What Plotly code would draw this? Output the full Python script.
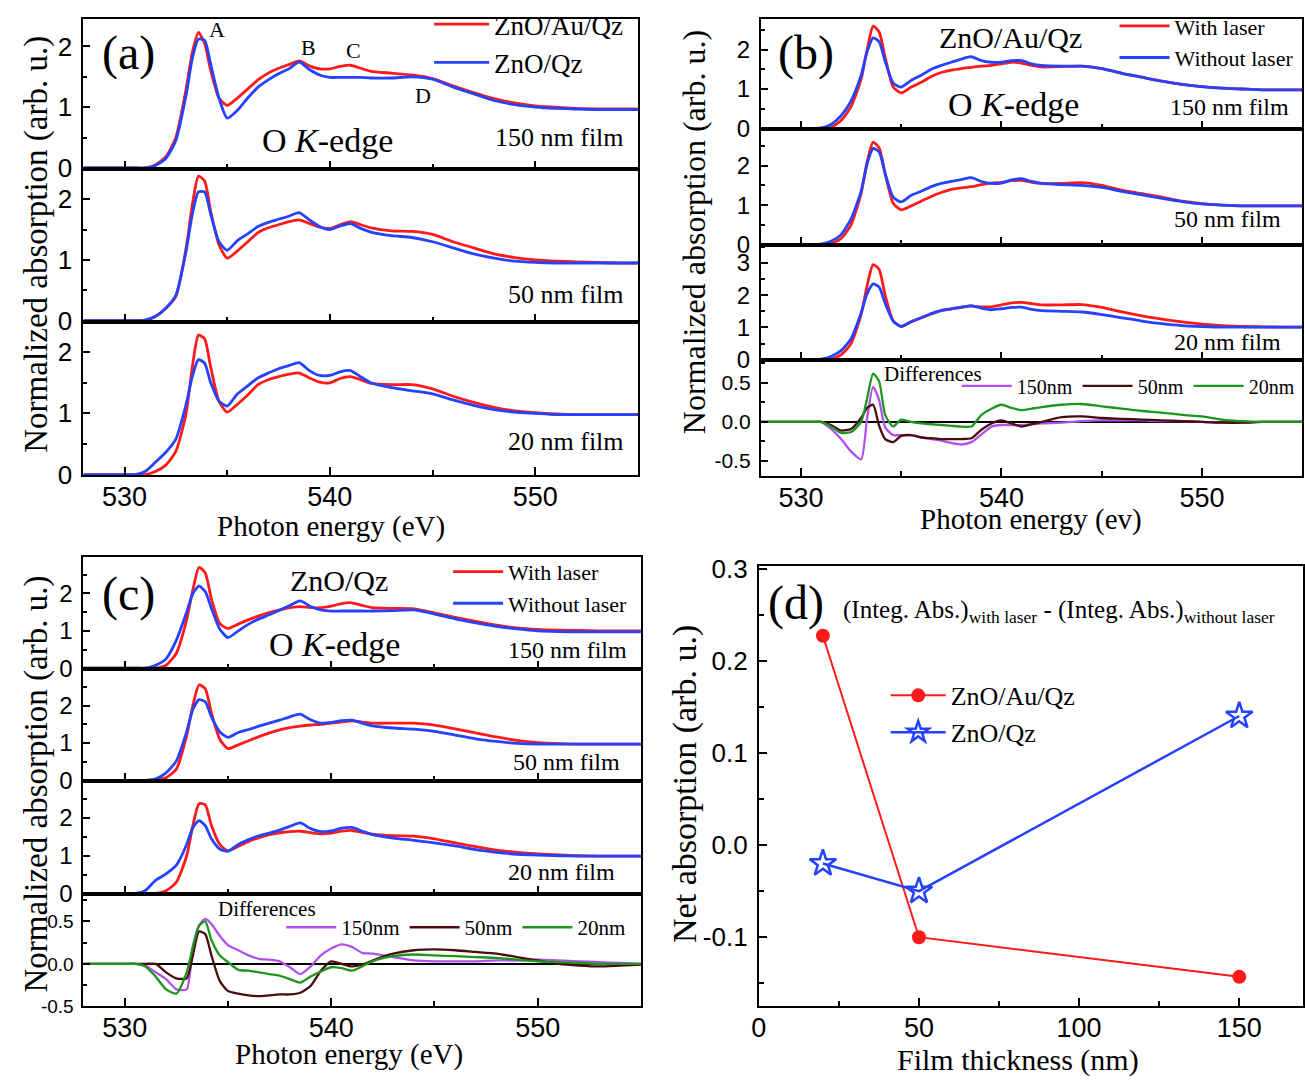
import plotly.graph_objects as go

W, H = 1305, 1081
SERIF = "Liberation Serif, Times New Roman, serif"
SANS = "Liberation Sans Narrow, Arial Narrow, Liberation Sans, Arial, sans-serif"

RED = "#ff1a1a"
BLUE = "#2442ff"
VIOLET = "#b050f0"
BROWN = "#4a0d0d"
GREEN = "#1c961c"

# photon energy grid (eV), shared by all spectra
energy = [528, 529, 530, 530.5, 531, 531.5, 532, 532.5, 533, 533.3, 533.6, 533.9, 534.2, 534.6,
          535, 535.5, 536, 536.5, 537, 537.5, 538, 538.5, 539, 539.5, 540, 540.5, 541, 541.5,
          542, 543, 544, 545, 546, 547, 548, 549, 550, 551, 552, 553, 554, 555]

# (a) ZnO/Au/Qz (red) vs ZnO/Qz (blue)
a150_auqz = [0, 0, 0, 0, 0.0, 0.05, 0.18, 0.5, 1.3, 1.9, 2.23, 2.05, 1.6, 1.15, 1.03, 1.15, 1.3, 1.45, 1.56, 1.64,
             1.7, 1.76, 1.68, 1.63, 1.63, 1.67, 1.69, 1.64, 1.59, 1.56, 1.53, 1.47, 1.35, 1.24, 1.14, 1.07, 1.02, 1.0, 0.98, 0.97, 0.97, 0.97]
a150_qz = [0, 0, 0, 0, 0, 0.04, 0.15, 0.45, 1.2, 1.8, 2.12, 2.1, 1.7, 1.15, 0.82, 0.95, 1.15, 1.33, 1.45, 1.55,
           1.63, 1.74, 1.62, 1.53, 1.49, 1.49, 1.49, 1.49, 1.48, 1.48, 1.5, 1.46, 1.33, 1.22, 1.11, 1.04, 1.0, 0.98, 0.97, 0.96, 0.96, 0.96]
a50_auqz = [0, 0, 0, 0, 0.01, 0.07, 0.2, 0.4, 1.2, 1.9, 2.38, 2.3, 1.8, 1.25, 1.03, 1.15, 1.3, 1.45, 1.53, 1.58,
            1.63, 1.66, 1.6, 1.54, 1.52, 1.58, 1.63, 1.58, 1.53, 1.48, 1.47, 1.42, 1.3, 1.2, 1.1, 1.04, 1.0, 0.98, 0.97, 0.96, 0.95, 0.95]
a50_qz = [0, 0, 0, 0, 0.01, 0.07, 0.2, 0.42, 1.15, 1.75, 2.12, 2.12, 1.75, 1.3, 1.16, 1.32, 1.43, 1.55, 1.62, 1.67,
          1.72, 1.78, 1.66, 1.55, 1.5, 1.56, 1.6, 1.52, 1.46, 1.4, 1.37, 1.3, 1.2, 1.1, 1.03, 0.98, 0.96, 0.95, 0.95, 0.95, 0.95, 0.95]
a20_auqz = [0, 0, 0, 0, 0.0, 0.05, 0.15, 0.38, 1.0, 1.75, 2.28, 2.22, 1.75, 1.2, 1.02, 1.15, 1.3, 1.47, 1.55, 1.6,
            1.64, 1.66, 1.58, 1.51, 1.5, 1.57, 1.6, 1.55, 1.49, 1.47, 1.47, 1.4, 1.28, 1.18, 1.1, 1.04, 1.01, 0.99, 0.98, 0.98, 0.98, 0.98]
a20_qz = [0, 0, 0, 0, 0.05, 0.2, 0.36, 0.58, 1.15, 1.6, 1.88, 1.82, 1.5, 1.2, 1.12, 1.32, 1.45, 1.58, 1.66, 1.73,
          1.78, 1.83, 1.7, 1.62, 1.62, 1.68, 1.7, 1.6, 1.5, 1.42, 1.37, 1.32, 1.22, 1.13, 1.06, 1.02, 1.0, 0.98, 0.98, 0.98, 0.98, 0.98]

# (b) ZnO/Au/Qz with laser (red) / without laser (blue)
b150_on = [0, 0, 0, 0, 0, 0.02, 0.2, 0.55, 1.25, 2.0, 2.6, 2.45, 1.8, 1.05, 0.9, 1.05, 1.17, 1.32, 1.42, 1.48,
           1.52, 1.55, 1.58, 1.6, 1.64, 1.68, 1.66, 1.6, 1.56, 1.57, 1.58, 1.52, 1.4, 1.3, 1.2, 1.12, 1.06, 1.02, 1.0, 0.98, 0.98, 0.98]
b150_off = [0, 0, 0, 0, 0.01, 0.1, 0.32, 0.7, 1.35, 1.95, 2.3, 2.2, 1.7, 1.15, 1.05, 1.22, 1.35, 1.5, 1.6, 1.68,
            1.76, 1.82, 1.72, 1.68, 1.68, 1.72, 1.72, 1.64, 1.6, 1.58, 1.58, 1.52, 1.4, 1.3, 1.2, 1.12, 1.06, 1.02, 1.0, 0.98, 0.98, 0.98]
b50_on = [0, 0, 0, 0, 0, 0.02, 0.15, 0.5, 1.3, 2.1, 2.6, 2.45, 1.8, 1.05, 0.88, 0.98, 1.1, 1.22, 1.32, 1.4,
          1.44, 1.47, 1.52, 1.56, 1.58, 1.62, 1.63, 1.58, 1.55, 1.55, 1.57, 1.5, 1.38, 1.29, 1.2, 1.1, 1.04, 1.0, 0.98, 0.98, 0.98, 0.98]
b50_off = [0, 0, 0, 0, 0.01, 0.08, 0.25, 0.65, 1.35, 2.05, 2.44, 2.35, 1.8, 1.2, 1.08, 1.25, 1.35, 1.47, 1.55, 1.6,
           1.65, 1.7, 1.6, 1.55, 1.56, 1.64, 1.67, 1.6, 1.55, 1.52, 1.5, 1.45, 1.35, 1.26, 1.17, 1.09, 1.03, 1.0, 0.98, 0.98, 0.98, 0.98]
b20_on = [0, 0, 0, 0, 0, 0.02, 0.15, 0.5, 1.4, 2.3, 2.95, 2.8, 2.0, 1.2, 1.03, 1.18, 1.3, 1.42, 1.52, 1.58,
          1.62, 1.66, 1.64, 1.64, 1.7, 1.76, 1.78, 1.74, 1.7, 1.7, 1.71, 1.62, 1.48, 1.36, 1.26, 1.17, 1.1, 1.06, 1.03, 1.02, 1.01, 1.01]
b20_off = [0, 0, 0, 0, 0.02, 0.1, 0.28, 0.65, 1.45, 2.05, 2.35, 2.25, 1.75, 1.2, 1.03, 1.18, 1.3, 1.43, 1.53, 1.58,
           1.63, 1.68, 1.6, 1.55, 1.58, 1.62, 1.63, 1.56, 1.52, 1.5, 1.48, 1.4, 1.3, 1.2, 1.12, 1.06, 1.03, 1.01, 1.01, 1.01, 1.01, 1.01]
b_diff150 = [0, 0, 0, 0, 0, -0.09, -0.22, -0.38, -0.48, 0.05, 0.45, 0.28, -0.07, -0.17, -0.17, -0.17, -0.2, -0.22, -0.24, -0.27,
             -0.29, -0.26, -0.16, -0.06, -0.04, -0.04, -0.04, -0.03, -0.02, -0.01, 0.01, 0.02, 0.02, 0.02, 0.01, 0.01, 0.0, -0.01, -0.01, 0, 0, 0]
b_diff50 = [0, 0, 0, 0, 0, -0.04, -0.11, -0.09, 0.05, 0.18, 0.22, -0.05, -0.22, -0.26, -0.18, -0.17, -0.2, -0.21, -0.22, -0.22,
            -0.22, -0.21, -0.1, -0.02, 0.02, -0.02, -0.06, -0.03, 0.0, 0.06, 0.07, 0.05, 0.04, 0.03, 0.02, 0.01, 0.0, -0.01, -0.01, 0, 0, 0]
b_diff20 = [0, 0, 0, 0, 0, -0.06, -0.14, -0.13, 0.0, 0.3, 0.62, 0.52, 0.09, -0.06, 0.03, 0.0, -0.02, -0.03, -0.04, -0.05,
            -0.06, -0.06, 0.09, 0.17, 0.22, 0.18, 0.15, 0.17, 0.19, 0.22, 0.23, 0.2, 0.17, 0.14, 0.12, 0.09, 0.07, 0.03, 0.01, 0, 0, 0]

# (c) ZnO/Qz with laser (red) / without laser (blue)
c150_on = [0, 0, 0, 0, 0, 0.0, 0.08, 0.4, 1.3, 2.1, 2.7, 2.55, 1.85, 1.2, 1.06, 1.18, 1.3, 1.4, 1.49, 1.56,
           1.62, 1.65, 1.62, 1.62, 1.66, 1.73, 1.75, 1.68, 1.62, 1.6, 1.59, 1.48, 1.36, 1.25, 1.15, 1.08, 1.04, 1.02, 1.01, 1.0, 1.0, 1.0]
c150_off = [0, 0, 0, 0, 0.0, 0.08, 0.25, 0.75, 1.5, 2.0, 2.2, 2.05, 1.6, 1.05, 0.82, 1.0, 1.18, 1.32, 1.43, 1.55,
            1.68, 1.8, 1.65, 1.56, 1.53, 1.53, 1.53, 1.53, 1.53, 1.54, 1.56, 1.45, 1.32, 1.21, 1.12, 1.05, 1.0, 0.98, 0.97, 0.97, 0.97, 0.97]
c50_on = [0, 0, 0, 0, 0, 0.01, 0.07, 0.3, 1.2, 2.0, 2.55, 2.45, 1.8, 1.1, 0.85, 0.95, 1.06, 1.17, 1.27, 1.35,
          1.41, 1.45, 1.48, 1.5, 1.53, 1.56, 1.59, 1.56, 1.53, 1.53, 1.53, 1.48, 1.38, 1.27, 1.16, 1.07, 1.01, 0.98, 0.97, 0.97, 0.97, 0.97]
c50_off = [0, 0, 0, 0, 0, 0.04, 0.2, 0.52, 1.3, 1.9, 2.16, 2.1, 1.7, 1.3, 1.15, 1.28, 1.36, 1.45, 1.53, 1.61,
           1.7, 1.77, 1.62, 1.53, 1.55, 1.6, 1.61, 1.53, 1.46, 1.4, 1.37, 1.31, 1.21, 1.11, 1.04, 0.99, 0.97, 0.97, 0.97, 0.97, 0.97, 0.97]
c20_on = [0, 0, 0, 0, 0, 0.0, 0.07, 0.3, 1.0, 1.8, 2.38, 2.35, 1.8, 1.3, 1.13, 1.25, 1.38, 1.48, 1.56, 1.61,
          1.64, 1.65, 1.61, 1.58, 1.6, 1.65, 1.67, 1.62, 1.57, 1.53, 1.52, 1.45, 1.34, 1.24, 1.15, 1.09, 1.05, 1.02, 1.0, 0.99, 0.99, 0.99]
c20_off = [0, 0, 0, 0, 0.08, 0.35, 0.52, 0.75, 1.3, 1.75, 1.93, 1.8, 1.45, 1.18, 1.12, 1.3, 1.43, 1.53, 1.6, 1.68,
           1.78, 1.87, 1.72, 1.64, 1.66, 1.73, 1.75, 1.65, 1.56, 1.47, 1.41, 1.34, 1.26, 1.16, 1.09, 1.04, 1.02, 1.0, 0.99, 0.99, 0.99, 0.99]
c_diff150 = [0, 0, 0, 0, -0.02, -0.1, -0.18, -0.3, -0.3, 0.2, 0.45, 0.53, 0.47, 0.33, 0.22, 0.16, 0.1, 0.06, 0.05, 0.03,
             -0.04, -0.12, -0.03, 0.1, 0.18, 0.23, 0.2, 0.13, 0.12, 0.08, 0.04, 0.03, 0.03, 0.03, 0.04, 0.04, 0.05, 0.04, 0.03, 0.02, 0.01, 0]
c_diff50 = [0, 0, 0, 0, 0, 0.0, -0.1, -0.17, -0.17, 0.1, 0.38, 0.35, 0.1, -0.2, -0.32, -0.35, -0.37, -0.38, -0.37, -0.36,
            -0.36, -0.34, -0.26, -0.08, 0.03, 0.0, -0.03, -0.01, 0.04, 0.12, 0.16, 0.17, 0.16, 0.14, 0.12, 0.08, 0.04, 0.0, -0.02, -0.03, -0.02, -0.01]
c_diff20 = [0, 0, 0, 0, -0.03, -0.15, -0.3, -0.35, -0.1, 0.2, 0.45, 0.5, 0.28, 0.1, 0.02, -0.07, -0.08, -0.1, -0.12, -0.14,
            -0.18, -0.22, -0.15, -0.09, -0.04, -0.05, -0.08, -0.03, 0.03, 0.09, 0.11, 0.1, 0.09, 0.08, 0.07, 0.05, 0.03, 0.02, 0.01, 0, 0, 0]

# (d) net absorption vs film thickness
thickness = [20, 50, 150]
net_auqz = [0.227, -0.100, -0.143]
net_qz = [-0.020, -0.050, 0.140]

# tick labels
diff_ticks = [-0.5, 0.0, 0.5]
diff_ticktext = ["-0.5", "0.0", "0.5"]
net_ticks = [-0.1, 0.0, 0.1, 0.2, 0.3]
net_ticktext = ["-0.1", "0.0", "0.1", "0.2", "0.3"]

# positions below are measured on the reference; this maps them to page pixels
SX, BX = 0.994, 6.5
SY, BY = 0.977, 11.0


def page_x(p):
    return (p - BX) / SX


def page_y(p):
    return (p - BY) / SY


def px(p):
    return page_x(p) / W


def py(p):
    return 1 - page_y(p) / H


def ydomain(top, bottom, yrange):
    t, b = page_y(top), page_y(bottom)
    lo, hi = yrange
    if t < 0:
        hi = lo + (hi - lo) * b / (b - t)
        t = 0
    return [1 - b / H, 1 - t / H], [lo, hi]


fig = go.Figure()
axes = {}


def spec_axes(i, left, right, top, bottom, yrange, dtick, minor, xlabels=False, yfs=26, diff=False):
    xn = "xaxis" if i == 1 else f"xaxis{i}"
    yn = "yaxis" if i == 1 else f"yaxis{i}"
    dom, rng = ydomain(top, bottom, yrange)
    axes[xn] = dict(domain=[px(left), min(px(right), 1)], range=[528, 555], anchor=f"y{i}",
                    tick0=530, dtick=10, ticks="inside", ticklen=8, tickwidth=2, tickcolor="black",
                    minor=dict(ticks="inside", dtick=5, tick0=530, ticklen=5, tickwidth=1.5, tickcolor="black"),
                    showline=True, linewidth=2, linecolor="black", mirror=True,
                    showgrid=False, zeroline=False, showticklabels=xlabels, ticklabelstandoff=-4,
                    tickfont=dict(family=SANS, size=27, color="black"))
    y = dict(domain=dom, range=rng, anchor=f"x{i}",
             tick0=0, dtick=dtick, ticks="inside", ticklen=7, tickwidth=2, tickcolor="black",
             minor=dict(ticks="inside", dtick=minor, tick0=0, ticklen=4, tickwidth=1.5, tickcolor="black"),
             showline=True, linewidth=2, linecolor="black", mirror=True,
             showgrid=False, zeroline=diff, zerolinecolor="black", zerolinewidth=2,
             ticklabelstandoff=4, tickfont=dict(family=SANS, size=yfs, color="black"))
    if diff:
        y.update(tickmode="array", tickvals=diff_ticks, ticktext=diff_ticktext)
    axes[yn] = y


# panel (a)
spec_axes(1, 82, 637, 8, 162, [-0.015, 2.5], 1, 0.5)
spec_axes(2, 82, 637, 162, 316, [-0.015, 2.5], 1, 0.5)
spec_axes(3, 82, 637, 316, 471, [-0.015, 2.5], 1, 0.5, xlabels=True)
# panel (b)
spec_axes(4, 760, 1302, 5, 122, [-0.02, 2.93], 1, 0.5, yfs=24)
spec_axes(5, 760, 1302, 122, 239, [-0.02, 2.93], 1, 0.5, yfs=24)
spec_axes(6, 760, 1302, 239, 355, [-0.02, 3.55], 1, 0.5, yfs=24)
spec_axes(7, 760, 1302, 355, 472, [-0.7, 0.79], 0.5, 0.25, xlabels=True, yfs=21, diff=True)
# panel (c)
spec_axes(8, 82, 640, 553, 666, [-0.02, 2.98], 1, 0.5, yfs=24)
spec_axes(9, 82, 640, 666, 779, [-0.02, 2.98], 1, 0.5, yfs=24)
spec_axes(10, 82, 640, 779, 893, [-0.02, 2.98], 1, 0.5, yfs=24)
spec_axes(11, 82, 640, 893, 1006, [-0.5, 0.82], 0.5, 0.25, xlabels=True, yfs=19, diff=True)

# panel (d)
axes["xaxis12"] = dict(domain=[px(758), min(px(1303), 1)], range=[0, 170], anchor="y12",
                       tick0=0, dtick=50, ticks="inside", ticklen=8, tickwidth=2, tickcolor="black",
                       minor=dict(ticks="inside", dtick=25, ticklen=5, tickwidth=1.5, tickcolor="black"),
                       showline=True, linewidth=2, linecolor="black", mirror=True,
                       showgrid=False, zeroline=False, ticklabelstandoff=-4,
                       tickfont=dict(family=SANS, size=27, color="black"))
axes["yaxis12"] = dict(domain=[py(1006), py(562)], range=[-0.175, 0.303], anchor="x12",
                       tickmode="array", tickvals=net_ticks, ticktext=net_ticktext,
                       ticks="inside", ticklen=8, tickwidth=2, tickcolor="black",
                       minor=dict(ticks="inside", dtick=0.05, tick0=0, ticklen=5, tickwidth=1.5, tickcolor="black"),
                       showline=True, linewidth=2, linecolor="black", mirror=True,
                       showgrid=False, zeroline=False, ticklabelstandoff=4,
                       tickfont=dict(family=SANS, size=26, color="black"))


def spec(i, y, color, name=None, legend=None, width=2.8):
    fig.add_trace(go.Scatter(x=energy, y=y, mode="lines", xaxis=f"x{i}", yaxis=f"y{i}",
                             line=dict(color=color, width=width, shape="spline", smoothing=0.6),
                             name=name, showlegend=name is not None, legend=legend))


spec(1, a150_auqz, RED, "ZnO/Au/Qz", "legend")
spec(1, a150_qz, BLUE, "ZnO/Qz", "legend")
spec(2, a50_auqz, RED)
spec(2, a50_qz, BLUE)
spec(3, a20_auqz, RED)
spec(3, a20_qz, BLUE)

spec(4, b150_on, RED, "With laser", "legend2")
spec(4, b150_off, BLUE, "Without laser", "legend2")
spec(5, b50_on, RED)
spec(5, b50_off, BLUE)
spec(6, b20_on, RED)
spec(6, b20_off, BLUE)
spec(7, b_diff150, VIOLET, "150nm", "legend3", 2.3)
spec(7, b_diff50, BROWN, "50nm", "legend3", 2.3)
spec(7, b_diff20, GREEN, "20nm", "legend3", 2.3)

spec(8, c150_on, RED, "With laser", "legend4")
spec(8, c150_off, BLUE, "Without laser", "legend4")
spec(9, c50_on, RED)
spec(9, c50_off, BLUE)
spec(10, c20_on, RED)
spec(10, c20_off, BLUE)
spec(11, c_diff150, VIOLET, "150nm", "legend5", 2.3)
spec(11, c_diff50, BROWN, "50nm", "legend5", 2.3)
spec(11, c_diff20, GREEN, "20nm", "legend5", 2.3)

fig.add_trace(go.Scatter(x=thickness, y=net_auqz, mode="lines+markers", xaxis="x12", yaxis="y12",
                         name="ZnO/Au/Qz", legend="legend6",
                         line=dict(color=RED, width=2), marker=dict(symbol="circle", size=14, color=RED)))
fig.add_trace(go.Scatter(x=thickness, y=net_qz, mode="lines+markers", xaxis="x12", yaxis="y12",
                         name="ZnO/Qz", legend="legend6",
                         line=dict(color=BLUE, width=2.5),
                         marker=dict(symbol="star-open", size=20, color=BLUE, line=dict(width=2.5))))


def leg(x, y, size, orientation="v", itemwidth=50):
    return dict(x=px(x), y=py(y), xanchor="left", yanchor="top", orientation=orientation,
                bgcolor="rgba(0,0,0,0)", borderwidth=0, itemwidth=itemwidth,
                font=dict(family=SERIF, size=size, color="black"), tracegroupgap=0, traceorder="normal")


notes = []


def note(text, x, y, size, xanchor="center", angle=0, family=SERIF):
    notes.append(dict(text=text, x=px(x), y=py(y), xref="paper", yref="paper",
                      showarrow=False, xanchor=xanchor, yanchor="middle", textangle=angle,
                      font=dict(family=family, size=size, color="black")))


# (a)
note("(a)", 127, 45, 48)
note("A", 216, 22, 22)
note("B", 307, 40, 22)
note("C", 352, 43, 22)
note("D", 422, 88, 22)
note("O <i>K</i>-edge", 326, 133, 34)
note("150 nm film", 625, 130, 26, "right")
note("50 nm film", 625, 289, 26, "right")
note("20 nm film", 625, 437, 26, "right")
note("Normalized absorption (arb. u.)", 35, 238, 33, angle=-90)
note("Photon energy (eV)", 330, 522, 29)
# (b)
note("(b)", 805, 45, 48)
note("ZnO/Au/Qz", 1010, 30, 30)
note("O <i>K</i>-edge", 1013, 97, 34)
note("150 nm film", 1291, 100, 24, "right")
note("50 nm film", 1283, 213, 24, "right")
note("20 nm film", 1283, 337, 24, "right")
note("Differences", 932, 369, 21)
note("Normalized absorption (arb. u.)", 693, 226, 32, angle=-90)
note("Photon energy (ev)", 1030, 515, 29)
# (c)
note("(c)", 127, 590, 48)
note("ZnO/Qz", 338, 577, 30)
note("O <i>K</i>-edge", 333, 641, 34)
note("150 nm film", 628, 647, 24, "right")
note("50 nm film", 621, 760, 24, "right")
note("20 nm film", 616, 871, 24, "right")
note("Differences", 266, 908, 21)
note("Normalized absorption (arb. u.)", 35, 782, 33, angle=-90)
note("Photon energy (eV)", 348, 1055, 29)
# (d)
note("(d)", 795, 600, 48)
note("(Integ. Abs.)<sub>with laser</sub> - (Integ. Abs.)<sub>without laser</sub>", 840, 608, 25, "left")
note("Net absorption (arb. u.)", 684, 782, 34, angle=-90)
note("Film thickness (nm)", 1017, 1060, 30)

fig.update_layout(
    width=W, height=H,
    margin=dict(l=0, r=0, t=0, b=0),
    paper_bgcolor="white", plot_bgcolor="white",
    annotations=notes,
    legend=leg(428, -8, 27, itemwidth=55),
    legend2=leg(1114, -3, 22, itemwidth=50),
    legend3=leg(956, 361, 20, "h", itemwidth=50),
    legend4=leg(447, 547, 22, itemwidth=50),
    legend5=leg(280, 906, 21, "h", itemwidth=50),
    legend6=leg(885, 669, 26, itemwidth=55),
    **axes,
)

# drop the page's default body margin so the figure fills the window exactly
fig.write_html("out.html", config={"displayModeBar": False},
               post_script="document.body.style.margin='0';document.body.style.overflow='hidden';")
